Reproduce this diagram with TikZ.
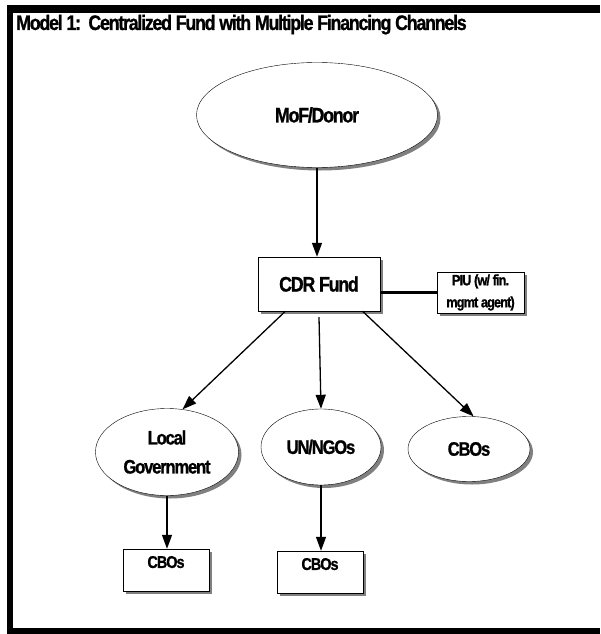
\documentclass[tikz,border=0pt]{standalone}
\usepackage{fontspec}
\setmainfont{Liberation Sans}[FakeStretch=0.85, LetterSpace=-6, BoldFeatures={FakeBold=1}]
\usetikzlibrary{shapes.geometric, arrows.meta, shadows}

\tikzset{
    shadowed/.style={drop shadow={shadow xshift=3pt, shadow yshift=-3pt, fill=gray, opacity=1}},
    oval/.style={ellipse, draw, thin, fill=white, shadowed, font=\bfseries\fontsize{19.5}{22}\selectfont, align=center, inner sep=0pt},
    fundbox/.style={rectangle, draw, thin, fill=white, shadowed, font=\bfseries\fontsize{17}{19}\selectfont, align=center},
    flow/.style={-{Triangle[length=14pt,width=10pt]}, line width=1.3pt}
}

\begin{document}
\begin{tikzpicture}[x=1pt, y=-1pt]
    \useasboundingbox (0,0) rectangle (600,634);

    % Draw the black frame
    \fill[black] (8,5) rectangle (600,13);
    \fill[black] (7,5) rectangle (13,634);
    \fill[black] (7,628) rectangle (600,634);

    % Title
    \node[anchor=base west, inner sep=0pt, font=\bfseries\fontsize{21}{23}\selectfont] (title) at (16,30) {Model 1:\ \ Centralized Fund with Multiple Financing Channels};

    % Funding source and central fund
    \node[oval, minimum width=241pt, minimum height=105pt, font=\bfseries\fontsize{21}{23}\selectfont] (donor) at (317,115) {\raisebox{-6pt}{MoF/Donor}};
    \node[fundbox, minimum width=122pt, minimum height=54pt, font=\bfseries\fontsize{21}{23}\selectfont] (cdr) at (319,284) {CDR Fund};
    \node[fundbox, minimum width=87pt, minimum height=41pt, inner sep=1pt, font=\bfseries\fontsize{15}{22}\selectfont] (piu) at (480.5,292.5) {PIU (w/ fin.\\mgmt agent)};

    % Financing channels
    \node[oval, minimum width=143pt, minimum height=87pt, font=\bfseries\fontsize{19.5}{29}\selectfont] (localgov) at (167,452) {Local\\Government};
    \node[oval, minimum width=120pt, minimum height=76pt] (ungo) at (321,447) {UN/NGOs};
    \node[oval, minimum width=122pt, minimum height=65pt] (cbo) at (469,449) {CBOs};

    % Community level
    \node[fundbox, minimum width=86pt, minimum height=42pt, text depth=16pt] (cboa) at (166,570) {CBOs};
    \node[fundbox, minimum width=86pt, minimum height=42pt, text depth=16pt] (cbob) at (320,572) {CBOs};

    % Arrows
    \draw[flow] (donor.south) -- (donor.south |- cdr.north);
    \draw[line width=2.2pt] (piu.west) -- (piu.west -| cdr.east);
    \draw[flow] (cdr.219) -- (localgov.70);
    \draw[flow] (cdr.south) ++(0,6) -- (ungo.north);
    \draw[flow] (cdr.-32) -- (cbo.82);
    \draw[flow] (localgov.south) -- (localgov.south |- cboa.north);
    \draw[flow] (ungo.south) -- (ungo.south |- cbob.north);

\end{tikzpicture}
\end{document}
